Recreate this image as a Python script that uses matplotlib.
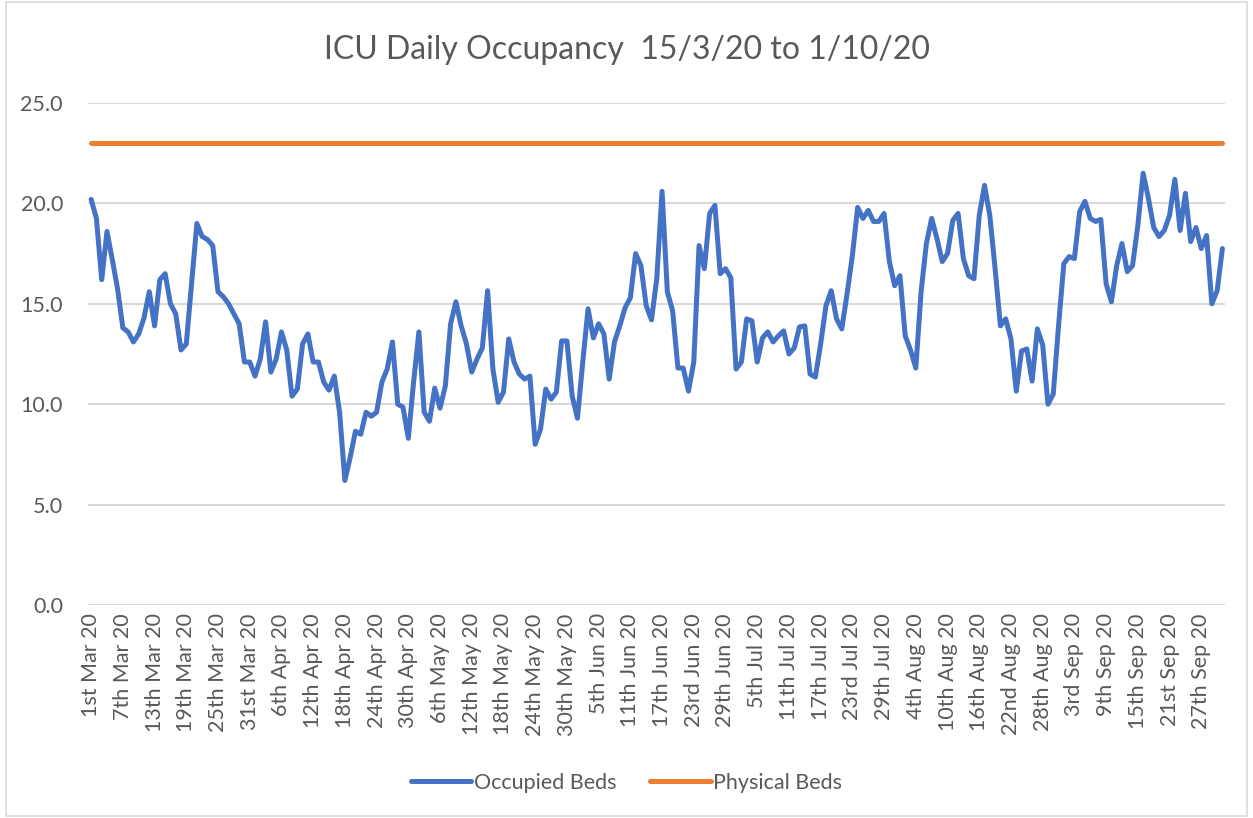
import matplotlib
matplotlib.use('Agg')
import matplotlib.pyplot as plt
from matplotlib.patches import Rectangle

plt.rcParams['font.family'] = ['Lato', 'DejaVu Sans']

# daily ICU occupancy, 1st Mar 20 .. 1st Oct 20
occupied = [
    20.2, 19.25, 16.2, 18.6, 17.2, 15.75, 13.8, 13.6, 13.1, 13.5,
    14.3, 15.6, 13.9, 16.2, 16.5, 15.0, 14.5, 12.7, 13.0, 16.0,
    19.0, 18.35, 18.2, 17.9, 15.6, 15.35, 15.0, 14.5, 14.0, 12.1,
    12.1, 11.4, 12.25, 14.1, 11.6, 12.25, 13.6, 12.7, 10.4, 10.75,
    13.0, 13.5, 12.1, 12.1, 11.1, 10.7, 11.4, 9.6, 6.2, 7.35,
    8.65, 8.5, 9.6, 9.4, 9.6, 11.1, 11.75, 13.1, 10.0, 9.85,
    8.3, 11.1, 13.6, 9.6, 9.15, 10.8, 9.8, 10.9, 14.0, 15.1,
    13.9, 13.0, 11.6, 12.25, 12.8, 15.65, 11.75, 10.1, 10.6, 13.25,
    12.1, 11.5, 11.25, 11.4, 8.0, 8.75, 10.75, 10.25, 10.6, 13.15,
    13.15, 10.4, 9.3, 12.1, 14.75, 13.3, 14.0, 13.5, 11.25, 13.1,
    13.9, 14.8, 15.3, 17.5, 16.9, 14.9, 14.2, 16.25, 20.6, 15.6,
    14.65, 11.8, 11.8, 10.65, 12.1, 17.9, 16.75, 19.5, 19.9, 16.5,
    16.75, 16.3, 11.75, 12.1, 14.25, 14.15, 12.1, 13.3, 13.6, 13.1,
    13.4, 13.65, 12.5, 12.8, 13.85, 13.9, 11.5, 11.35, 13.0, 14.9,
    15.65, 14.25, 13.75, 15.5, 17.4, 19.8, 19.25, 19.65, 19.1, 19.1,
    19.5, 17.1, 15.9, 16.4, 13.4, 12.7, 11.8, 15.6, 18.0, 19.25,
    18.25, 17.1, 17.5, 19.15, 19.5, 17.25, 16.4, 16.25, 19.4, 20.9,
    19.4, 16.75, 13.9, 14.25, 13.25, 10.65, 12.65, 12.75, 11.15, 13.75,
    12.95, 10.0, 10.5, 13.9, 17.0, 17.35, 17.25, 19.6, 20.1, 19.25,
    19.1, 19.2, 16.0, 15.1, 16.9, 18.0, 16.6, 16.9, 18.9, 21.5,
    20.25, 18.8, 18.35, 18.65, 19.4, 21.2, 18.65, 20.5, 18.1, 18.8,
    17.75, 18.4, 15.0, 15.65, 17.75,
]
physical = [23.0] * len(occupied)

tick_labels = [
    '1st Mar 20', '7th Mar 20', '13th Mar 20', '19th Mar 20', '25th Mar 20',
    '31st Mar 20', '6th Apr 20', '12th Apr 20', '18th Apr 20', '24th Apr 20',
    '30th Apr 20', '6th May 20', '12th May 20', '18th May 20', '24th May 20',
    '30th May 20', '5th Jun 20', '11th Jun 20', '17th Jun 20', '23rd Jun 20',
    '29th Jun 20', '5th Jul 20', '11th Jul 20', '17th Jul 20', '23rd Jul 20',
    '29th Jul 20', '4th Aug 20', '10th Aug 20', '16th Aug 20', '22nd Aug 20',
    '28th Aug 20', '3rd Sep 20', '9th Sep 20', '15th Sep 20', '21st Sep 20',
    '27th Sep 20',
]
tick_step = 6

days = list(range(len(occupied)))
grey = '#595959'

fig = plt.figure(figsize=(12.53, 8.18), dpi=100)
fig.patches.append(Rectangle((0.005, 0.003), 0.99, 0.994, transform=fig.transFigure,
                             fill=False, edgecolor='#d9d9d9', linewidth=1.2))
ax = fig.add_axes([0.0702, 0.2604, 0.9075, 0.6137])

ax.plot(days, occupied, color='#4472C4', linewidth=3.6, label='Occupied Beds',
        solid_joinstyle='round', solid_capstyle='round', zorder=3)
ax.plot(days, physical, color='#ED7D31', linewidth=3.6, label='Physical Beds',
        solid_capstyle='round', zorder=3)

ax.set_ylim(0, 25)
ax.set_xlim(-0.6, len(occupied) - 0.5)
ax.set_yticks([0, 5, 10, 15, 20, 25])
ax.set_yticklabels(['%.1f' % v for v in [0, 5, 10, 15, 20, 25]])
ax.set_xticks(days[::tick_step])
ax.set_xticklabels(tick_labels, rotation=90)
ax.tick_params(axis='both', length=0, labelsize=15.5, labelcolor=grey)
ax.tick_params(axis='y', pad=18)
ax.tick_params(axis='x', pad=6)
ax.grid(axis='y', color='#d9d9d9', linewidth=1.5)
ax.set_axisbelow(True)
for s in ax.spines.values():
    s.set_visible(False)

fig.text(0.5, 0.939, 'ICU Daily Occupancy  15/3/20 to 1/10/20', ha='center', va='center',
         fontsize=23, color=grey)

fig.legend(loc='center', bbox_to_anchor=(0.5, 1 - 783 / 818), ncol=2, frameon=False,
           fontsize=15.5, labelcolor=grey, handlelength=2.8, handletextpad=0.1,
           columnspacing=1.6)

fig.savefig('out.png', dpi=100)
